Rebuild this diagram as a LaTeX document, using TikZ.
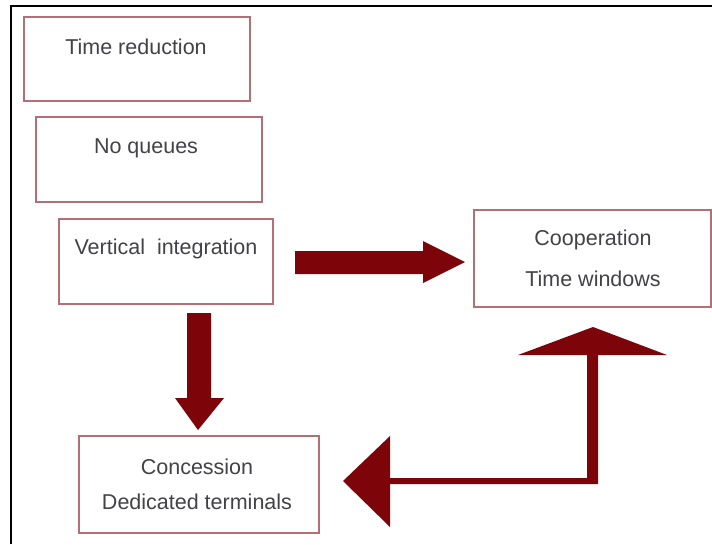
\documentclass[tikz,border=0pt]{standalone}
\usepackage{fontspec}
\setmainfont{Liberation Sans}
\definecolor{boxline}{RGB}{180,110,118}
\definecolor{arrowred}{RGB}{125,4,8}
\definecolor{txtgray}{RGB}{66,66,72}
\begin{document}
\begin{tikzpicture}[x=1pt,y=-1pt,
  box/.style={draw=boxline,line width=1.6pt,fill=white,inner sep=0pt,anchor=north west},
  lbl/.style={text=txtgray,font=\fontsize{21.5}{25}\selectfont,inner sep=0pt},
  blockarrow/.style={fill=arrowred,draw=none}]
\useasboundingbox (0,0) rectangle (712,544);
\fill[white] (0,0) rectangle (712,544);
% outer frame (top and left only)
\draw[black,line width=2pt] (11,544) -- (11,6) -- (712,6);
% boxes
\node[box,minimum width=226pt,minimum height=84pt] (b1) at (23,16) {};
\node[box,minimum width=226pt,minimum height=85pt] (b2) at (35,116) {};
\node[box,minimum width=214pt,minimum height=85pt] (b3) at (58,218) {};
\node[box,minimum width=237pt,minimum height=97pt] (b4) at (473,209) {};
\node[box,minimum width=240pt,minimum height=97pt] (b5) at (78,435) {};
% labels
\node[lbl] (t1) at (136,47) {Time reduction};
\node[lbl] (t2) at (146,148) {No queues};
\node[lbl] (t3) at (166,249) {Vertical\ \ integration};
\node[lbl] (t4a) at (593,240) {Cooperation};
\node[lbl] (t4b) at (593,279) {Time windows};
\node[lbl] (t5a) at (197,467) {Concession};
\node[lbl] (t5b) at (197,502) {Dedicated terminals};
% block arrows
\fill[blockarrow] (295,251) -- (423,251) -- (423,241) -- (465,262) -- (423,283) -- (423,274) -- (295,274) -- cycle;
\fill[blockarrow] (187,313) -- (211,313) -- (211,398) -- (224,398) -- (198,430) -- (175,398) -- (187,398) -- cycle;
\fill[blockarrow] (343,481) -- (390,436) -- (390,478) -- (587,478) -- (587,355) -- (518,355) -- (593,327) -- (667,355) -- (598,355) -- (598,484) -- (390,484) -- (390,527) -- cycle;
\end{tikzpicture}
\end{document}
